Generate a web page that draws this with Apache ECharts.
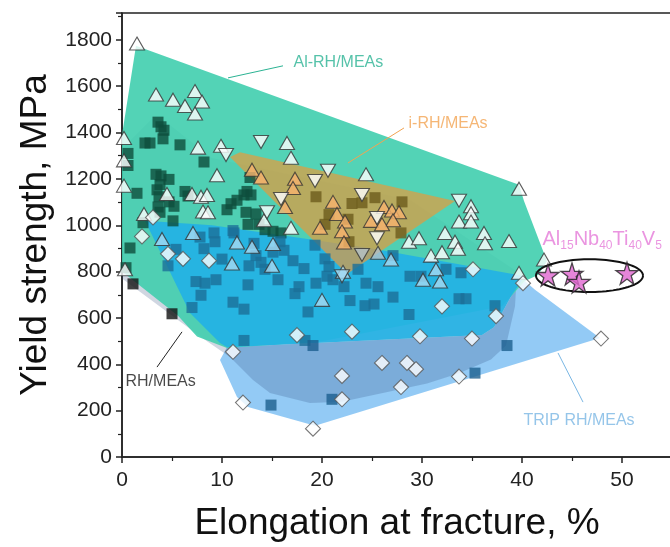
<!DOCTYPE html>
<html>
<head>
<meta charset="utf-8">
<script src="https://cdn.jsdelivr.net/npm/echarts@6/dist/echarts.min.js"></script>
<style>html,body{margin:0;padding:0;background:#fff}#c{width:670px;height:547px}</style>
</head>
<body>
<div id="c"></div>
<script>
// ---------- axis ----------
const xMin = 0, xMax = 55, xStep = 10;
const yMin = 0, yMax = 1916, yStep = 200;

// ---------- data (elongation %, yield strength MPa) ----------
const rhSquares = [
  [0.6,1310],[0.6,1258],[1.5,1138],[0.8,902],[0.4,817],[1.1,747],[5.0,618],
  [2.3,1355],[2.8,1355],[3.6,1445],[3.9,1425],[4.2,1410],[4.1,1373],[5.8,1347],[8.2,1273],
  [3.4,1220],[3.9,1213],[4.7,1198],[3.8,1176],[3.5,1153],[3.7,1123],[4.7,1101],[3.6,1079],[3.8,1056],[5.1,1019],
  [6.3,1146],[6.6,1126],[5.2,1082],[10.9,1093],[11.5,1108],[12.2,1131],[12.5,1146],[12.9,1131],[10.5,1067],
  [12.4,1056],[13.4,1049],[13.7,1004],[12.6,1004],[14.3,981],[15.1,974],[15.9,967],[11.2,967],
  [12.8,1206],[19.4,1123],[20.7,1046],[22.6,1026],[23,1094],[24,1097],[25.3,1119],[28,1101],[27.9,967],[20.3,1004],[22.7,929],
  [2.1,1011],[4.6,825],[5.4,896],[7.8,949],[9.2,967],[10,854],[11.1,977],[9.3,929],[8.2,899],[13.2,922],[13.4,869],
  [13.9,840],[12.7,825],[15.1,884],[15.8,929],[16.2,892],[17.1,847],[18.2,813],[19.3,914],[20.3,855],[20.7,822],
  [20.5,780],[21.1,765],[19.4,750],[17.7,735],[17.3,705],[15.6,765],[14.3,810],[12.6,743],[11.1,668],[12.2,638],
  [9.4,765],[7.4,757],[7.0,645],[7.9,698],[8.3,750],[18.6,626],[18.3,503],[19.1,481],[12.2,503],[22.2,735],
  [22.8,675],[23.6,810],[24.4,750],[25.2,660],[24.3,653],[25.6,735],[27.1,690],[28.7,615],[28.8,780],[29.9,780],
  [33.9,795],[33.7,683],[34.4,683],[37.3,653],[32.4,810],[27.1,869],
  [38.5,481],[35.3,362],[21,249],[14.9,224]
];
const upTriangles = [
  [1.5,1784],[3.4,1564],[5.1,1542],[6.3,1515],[7.3,1579],[8.0,1534],[7.3,1482],[0.2,1377],[0.2,1280],[0.2,1171],
  [7.6,1335],[9.9,1343],[16.5,1355],[9.5,1216],[4.5,1135],[7.0,1135],[7.9,1123],[8.5,1131],[8.1,1059],[8.6,1056],
  [2.2,1049],[14.2,1022],[0.3,810],[39.7,1158],[34.9,1082],[34.9,1052],[33.7,1016],[34.9,1016],[32.3,967],[36.2,967],
  [36.3,922],[33.3,929],[33.6,899],[28.7,929],[29.7,944],[30.9,869],[32,884],[38.7,932],[42.2,852],[39.7,795],
  [7.1,967],[4.0,941],[11.5,926],[13.0,907],[15.1,919],[11.0,835],[15,825],[20,678],[22.1,799],[25.6,881],
  [26.9,852],[30.1,765],[31.4,810],[31.8,757],
  [13,1240],[13.9,1206],[16.9,1291],[17.3,1201],[17.1,1161],[16.3,1079],[19.8,989],[21.1,1101],[21.5,1049],[22.3,1016],
  [22,974],[22.2,926],[24.4,1220],[24.9,1019],[26.2,1079],[27,1064],[27.7,1056],[27.1,1022],[26,1004],[16.9,989]
];
const downTriangles = [
  [13.9,1359],[10.4,1303],[19.3,1191],[20.6,1235],[24,1131],[15.9,1113],[14.5,1056],[25.5,1031],[25.5,944],
  [33.7,1106],[24,872],[22,780]
];
const tripDiamonds = [
  [3.1,1034],[2,952],[4.6,877],[6.1,855],[8.7,847],[35.1,810],[40.1,750],[32,650],[37.4,608],[23,541],
  [29.8,521],[35,511],[47.9,511],[17.5,526],[11.1,454],[26,406],[28.5,406],[29.4,379],[22,350],[33.7,347],
  [27.9,302],[22,249],[12.1,235],[19.1,122]
];
const alloyStars = [[42.6,785],[45,790],[45.7,755],[50.5,793]];

// ---------- region outlines (data coordinates) ----------
const alRegion = [[1.4,1775],[39.7,1175],[40.2,1105],[42.5,845],[41.6,785],[40.3,760],[38,650],[20,500],[10.5,470],
  [7.5,520],[5.6,610],[2.5,715],[0,800],[0,1390]];
const iRegion = [[10.8,1295],[11.8,1315],[33.3,1105],[22.5,790]];
const rhRegion = [[0,770],[2.5,690],[5.8,585],[8.5,500],[10.5,440],[11.1,419],[13.1,332],[14.8,276],[18.8,233],[22,238],
  [30.5,317],[33.7,361],[36.9,421],[38.4,481],[39.3,650],[39.5,800],[28.8,1110],[9,1290],[4,1460],[3,1460],[0,1330]];
const blueRegion = [[2.3,1020],[9,1000],[17,950],[25,900],[40.3,780],[39,700],[37.2,560],[36,526],[10.5,474],[9.8,492],[6.8,621]];
const tripRegion = [[40.3,760],[41.3,722],[47.8,513],[19.3,135],[12.6,216],[11.5,259],[9.8,419],[10.5,474],[36,526],[37.2,560],[39,700]];

// ---------- helpers ----------
function inside(p, poly) {
  let c = false;
  for (let i = 0, j = poly.length - 1; i < poly.length; j = i++) {
    const xi = poly[i][0], yi = poly[i][1], xj = poly[j][0], yj = poly[j][1];
    if (((yi > p[1]) !== (yj > p[1])) && (p[0] < (xj - xi) * (p[1] - yi) / (yj - yi) + xi)) c = !c;
  }
  return c;
}
function squareColor(p) {
  const o = inside(p, iRegion), b = inside(p, blueRegion);
  if (o && b) return '#4d5c62';
  if (o) return '#6c5b1c';
  if (b) return '#1b6f98';
  if (inside(p, alRegion)) return '#0e4d3c';
  if (inside(p, tripRegion)) return '#1d5f8e';
  return '#111';
}
function triColor(p, up) {
  const o = inside(p, iRegion), b = inside(p, blueRegion);
  if (o && b) return '#b4c2c8';
  if (o && up) return '#f7b36e';
  if (b) return '#a6d9f2';
  return '#ffffff';
}
function regionSeries(poly, fill, z) {
  return {
    type: 'custom', silent: true, z: z, animation: false,
    data: [poly[0]],
    renderItem: function (params, api) {
      return { type: 'polygon', shape: { points: poly.map(p => api.coord(p)) }, style: { fill: fill, stroke: null } };
    }
  };
}

const FONT = '"Liberation Sans", Arial, sans-serif';
const chart = echarts.init(document.getElementById('c'));

const annotations = [
  { value: [17.1, 1700], name: 'Al-RH/MEAs', label: { color: '#2bb393' } },
  { value: [28.6, 1437], name: 'i-RH/MEAs', label: { color: '#f2a452' } },
  { value: [0.3, 324], name: 'RH/MEAs', label: { color: '#1a1a1a' } },
  { value: [40.1, 155], name: 'TRIP RH/MEAs', label: { color: '#7ab7e4' } },
  { value: [42.0, 937], name: 'alloy', label: {
      formatter: '{m|Al}{s|15}{m|Nb}{s|40}{m|Ti}{s|40}{m|V}{s|5}',
      rich: {
        m: { fontSize: 20, color: '#e57ad8', fontFamily: FONT, lineHeight: 24 },
        s: { fontSize: 12, color: '#e57ad8', fontFamily: FONT, lineHeight: 10, verticalAlign: 'bottom' }
      } } }
];
const arrows = [
  [[16.1, 1688], [10.6, 1636], '#2bb393'],
  [[28.2, 1420], [22.6, 1269], '#f2a452'],
  [[3.5, 388], [6.0, 540], '#222'],
  [[46.1, 237], [43.6, 449], '#7ab7e4']
];

chart.setOption({
  animation: false,
  backgroundColor: '#fff',
  grid: { left: 122, right: -2, top: 13, bottom: 90, outerBoundsMode: 'none', containLabel: false,
    show: true, borderColor: '#222', borderWidth: 1.5, backgroundColor: 'transparent' },
  xAxis: {
    type: 'value', min: xMin, max: xMax, interval: xStep,
    name: 'Elongation at fracture, %', nameLocation: 'middle', nameGap: 48,
    nameTextStyle: { fontSize: 37, color: '#111', fontFamily: FONT },
    axisLine: { lineStyle: { color: '#222', width: 1.5 } },
    axisTick: { show: true, inside: false, length: 6, lineStyle: { color: '#222', width: 1.5 } },
    minorTick: { show: true, splitNumber: 2, length: 4, lineStyle: { color: '#222', width: 1.2 } },
    axisLabel: { fontSize: 21, color: '#222', fontFamily: FONT, margin: 13, showMaxLabel: false },
    splitLine: { show: false }
  },
  yAxis: {
    type: 'value', min: yMin, max: yMax, interval: yStep,
    name: 'Yield strength, MPa', nameLocation: 'middle', nameGap: 68,
    nameTextStyle: { fontSize: 37, color: '#111', fontFamily: FONT },
    axisLine: { lineStyle: { color: '#222', width: 1.5 } },
    axisTick: { show: true, inside: false, length: 6, lineStyle: { color: '#222', width: 1.5 } },
    minorTick: { show: true, splitNumber: 2, length: 4, lineStyle: { color: '#222', width: 1.2 } },
    axisLabel: { fontSize: 21, color: '#222', fontFamily: FONT, margin: 10, showMaxLabel: false,
      formatter: v => String(v) },
    splitLine: { show: false }
  },
  series: [
    regionSeries(tripRegion, 'rgba(138,198,244,0.92)', 1),
    regionSeries(rhRegion, 'rgba(40,70,120,0.22)', 2),
    regionSeries(alRegion, 'rgba(64,206,174,0.90)', 3),
    regionSeries(blueRegion, 'rgba(36,178,228,0.93)', 4),
    regionSeries(iRegion, 'rgba(240,150,50,0.65)', 5),
    {
      type: 'scatter', z: 10, symbol: 'rect', symbolSize: 11,
      data: rhSquares.map(p => ({ value: p, itemStyle: { color: squareColor(p) } }))
    },
    {
      type: 'scatter', z: 11, symbol: 'triangle', symbolSize: [15, 13],
      data: upTriangles.map(p => ({ value: p, itemStyle: { color: triColor(p, true) } })),
      itemStyle: { borderColor: '#333', borderWidth: 1.1 }
    },
    {
      type: 'scatter', z: 11, symbol: 'triangle', symbolSize: [15, 13], symbolRotate: 180,
      data: downTriangles.map(p => ({ value: p, itemStyle: { color: triColor(p, false) } })),
      itemStyle: { borderColor: '#333', borderWidth: 1.1 }
    },
    {
      type: 'scatter', z: 12, symbol: 'diamond', symbolSize: [15, 15],
      data: tripDiamonds,
      itemStyle: { color: '#fff', borderColor: '#555', borderWidth: 1.1 }
    },
    {
      type: 'custom', z: 13, silent: true, data: [alloyStars[0]],
      renderItem: function (params, api) {
        const pts = alloyStars.map(p => api.coord(p));
        const xs = pts.map(p => p[0]), ys = pts.map(p => p[1]);
        const x0 = Math.min(...xs), x1 = Math.max(...xs), y0 = Math.min(...ys), y1 = Math.max(...ys);
        const cx = (x0 + x1) / 2 + 2, cy = (y0 + y1) / 2 - 2;
        const rx = (x1 - x0) / 2 + 14, ry = (y1 - y0) / 2 + 12;
        const ring = [];
        for (let k = 0; k <= 90; k++) { const a = k / 90 * Math.PI * 2; ring.push([cx + rx * Math.cos(a), cy + ry * Math.sin(a)]); }
        return { type: 'polyline', shape: { points: ring }, style: { fill: null, stroke: '#111', lineWidth: 2 } };
      }
    },
    {
      type: 'scatter', z: 14,
      symbol: 'path://M50,0 L61.2,34.5 L97.6,34.5 L68.2,55.9 L79.4,90.5 L50,69.1 L20.6,90.5 L31.8,55.9 L2.4,34.5 L38.8,34.5 Z',
      symbolSize: 22, data: alloyStars,
      itemStyle: { color: '#e066cf', borderColor: '#222', borderWidth: 1.3 }
    },
    {
      type: 'scatter', z: 15, silent: true, symbolSize: 1,
      itemStyle: { color: 'rgba(0,0,0,0)' },
      label: { show: true, position: 'right', distance: 0, fontSize: 16, fontFamily: FONT, formatter: '{b}' },
      data: annotations,
      markLine: {
        silent: true, symbol: ['none', 'arrow'], symbolSize: [0, 8], animation: false,
        label: { show: false },
        data: arrows.map(a => [{ coord: a[0], lineStyle: { color: a[2], width: 1, type: 'solid' } }, { coord: a[1] }])
      }
    }
  ]
});
</script>
</body>
</html>
